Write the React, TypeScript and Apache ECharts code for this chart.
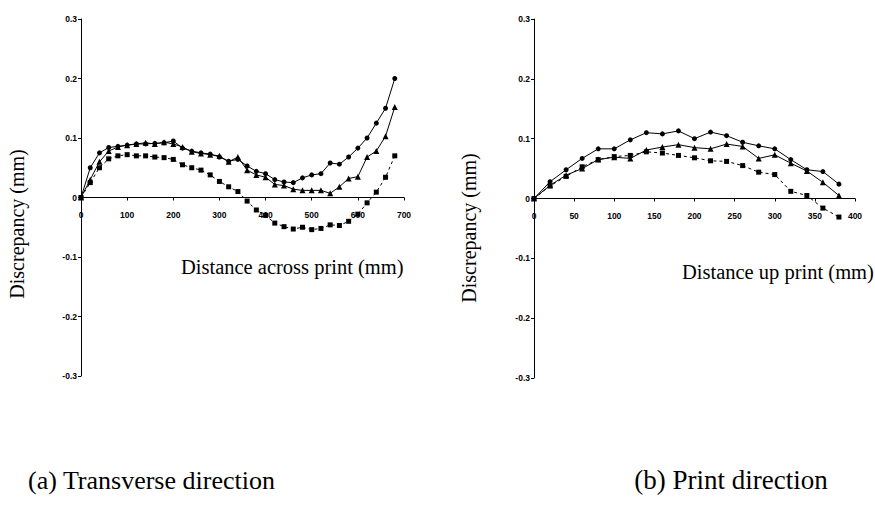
import React, { useEffect, useRef } from "react";
import * as echarts from "echarts";

// ---- (a) Transverse direction ----
const leftDist = [0, 20, 40, 60, 80, 100, 120, 140, 160, 180, 200, 220, 240, 260, 280, 300, 320, 340, 360, 380, 400, 420, 440, 460, 480, 500, 520, 540, 560, 580, 600, 620, 640, 660, 680];
const leftCircle = [0, 0.05, 0.075, 0.084, 0.086, 0.088, 0.09, 0.09, 0.091, 0.092, 0.095, 0.083, 0.078, 0.075, 0.073, 0.068, 0.061, 0.064, 0.053, 0.044, 0.04, 0.03, 0.026, 0.025, 0.033, 0.038, 0.04, 0.058, 0.056, 0.068, 0.083, 0.1, 0.125, 0.15, 0.2];
const leftTriangle = [0, 0.03, 0.06, 0.078, 0.085, 0.088, 0.09, 0.092, 0.09, 0.093, 0.09, 0.085, 0.077, 0.074, 0.072, 0.07, 0.06, 0.068, 0.046, 0.038, 0.034, 0.022, 0.02, 0.014, 0.012, 0.012, 0.012, 0.007, 0.018, 0.032, 0.035, 0.068, 0.078, 0.103, 0.152];
const leftSquare = [0, 0.025, 0.05, 0.065, 0.07, 0.072, 0.07, 0.07, 0.068, 0.067, 0.064, 0.055, 0.05, 0.046, 0.038, 0.027, 0.018, 0.01, -0.006, -0.021, -0.03, -0.043, -0.049, -0.053, -0.05, -0.054, -0.052, -0.046, -0.047, -0.04, -0.028, -0.009, 0.009, 0.034, 0.07];

// ---- (b) Print direction ----
const rightDist = [0, 20, 40, 60, 80, 100, 120, 140, 160, 180, 200, 220, 240, 260, 280, 300, 320, 340, 360, 380];
const rightCircle = [0, 0.028, 0.048, 0.067, 0.083, 0.083, 0.098, 0.11, 0.108, 0.113, 0.1, 0.111, 0.105, 0.094, 0.088, 0.083, 0.065, 0.048, 0.045, 0.024];
const rightTriangle = [0, 0.022, 0.039, 0.05, 0.065, 0.069, 0.067, 0.081, 0.086, 0.09, 0.085, 0.083, 0.091, 0.087, 0.067, 0.073, 0.059, 0.046, 0.027, 0.005];
const rightSquare = [0, 0.021, 0.037, 0.053, 0.065, 0.07, 0.072, 0.078, 0.076, 0.072, 0.068, 0.063, 0.062, 0.055, 0.044, 0.04, 0.012, 0.005, -0.016, -0.031];

const yTicks = { min: -0.3, max: 0.3, interval: 0.1 };
const leftXTicks = { min: 0, max: 700, interval: 100 };
const rightXTicks = { min: 0, max: 400, interval: 50 };

const leftXName = "Distance across print (mm)";
const rightXName = "Distance up print (mm)";
const yName = "Discrepancy (mm)";
const captionA = "(a) Transverse direction";
const captionB = "(b) Print direction";

const pair = (xs: number[], ys: number[]) => xs.map((x, i) => [x, ys[i]]);

export default function App() {
  const ref = useRef<HTMLDivElement>(null);
  useEffect(() => {
    if (!ref.current) return;
    const chart = echarts.init(ref.current, null, { renderer: "svg" });
    const black = "#000";
    const tickFont = { fontFamily: "Liberation Sans", fontWeight: "bold" as const, fontSize: 8.5, color: black };
    const serif = "Liberation Serif";
    const grids = [
      { left: 81, top: 19, width: 323, height: 357 },
      { left: 534, top: 19, width: 321, height: 359 },
    ];
    const xAxisCommon = (idx: number, t: any) => ({
      type: "value",
      gridIndex: idx,
      min: t.min,
      max: t.max,
      interval: t.interval,
      position: "bottom",
      offset: -grids[idx].height / 2,
      axisLine: { onZero: false, lineStyle: { color: black, width: 1 } },
      axisTick: { show: true, length: 3, lineStyle: { color: black } },
      axisLabel: { ...tickFont, margin: 13, showMaxLabel: true },
      splitLine: { show: false },
    });
    const yAxisCommon = (idx: number) => ({
      type: "value",
      gridIndex: idx,
      min: yTicks.min,
      max: yTicks.max,
      interval: yTicks.interval,
      axisLine: { show: true, onZero: false, lineStyle: { color: black, width: 1 } },
      axisTick: { show: true, length: 3, lineStyle: { color: black } },
      axisLabel: {
        ...tickFont,
        margin: 4,
        formatter: (v: number) => (Math.abs(v) < 1e-9 ? "0" : v.toFixed(1)),
      },
      splitLine: { show: false },
    });
    const mkSeries = (name: string, xi: number, data: number[][], symbol: string, size: number, dashed: boolean) => ({
      name,
      type: "line",
      xAxisIndex: xi,
      yAxisIndex: xi,
      data,
      symbol,
      symbolSize: size,
      showAllSymbol: true,
      lineStyle: { color: black, width: 1, type: dashed ? [3, 3] : "solid" },
      itemStyle: { color: black, borderWidth: 0 },
    });
    chart.setOption({
      animation: false,
      backgroundColor: "#fff",
      grid: grids,
      xAxis: [xAxisCommon(0, leftXTicks), xAxisCommon(1, rightXTicks)],
      yAxis: [yAxisCommon(0), yAxisCommon(1)],
      series: [
        mkSeries("A circle", 0, pair(leftDist, leftCircle), "circle", 5, false),
        mkSeries("A triangle", 0, pair(leftDist, leftTriangle), "triangle", 6, false),
        mkSeries("A square", 0, pair(leftDist, leftSquare), "rect", 5, true),
        mkSeries("B circle", 1, pair(rightDist, rightCircle), "circle", 5, false),
        mkSeries("B triangle", 1, pair(rightDist, rightTriangle), "triangle", 6, false),
        mkSeries("B square", 1, pair(rightDist, rightSquare), "rect", 5, true),
      ],
      graphic: [
        { type: "text", x: 181, y: 267, style: { text: leftXName, fontFamily: serif, fontSize: 20.5, fill: black, align: "left", verticalAlign: "middle" } },
        { type: "text", x: 682, y: 272, style: { text: rightXName, fontFamily: serif, fontSize: 20.5, fill: black, align: "left", verticalAlign: "middle" } },
        { type: "text", x: 17, y: 224, rotation: Math.PI / 2, style: { text: yName, fontFamily: serif, fontSize: 20, fill: black, align: "center", verticalAlign: "middle" } },
        { type: "text", x: 469, y: 228, rotation: Math.PI / 2, style: { text: yName, fontFamily: serif, fontSize: 20, fill: black, align: "center", verticalAlign: "middle" } },
        { type: "text", x: 28, y: 480, style: { text: captionA, fontFamily: serif, fontSize: 26, fill: black, align: "left", verticalAlign: "middle" } },
        { type: "text", x: 731, y: 480, style: { text: captionB, fontFamily: serif, fontSize: 27, fill: black, align: "center", verticalAlign: "middle" } },
      ],
    });
    return () => chart.dispose();
  }, []);
  return <div ref={ref} style={{ position: "fixed", left: 0, top: 0, width: 875, height: 516, background: "#fff" }} />;
}
